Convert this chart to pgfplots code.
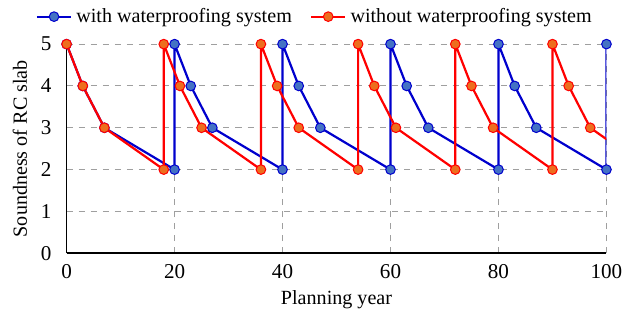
\documentclass[border=0pt]{standalone}
\usepackage{fontspec}
\setmainfont{Liberation Serif}
\usepackage{pgfplots}
\pgfplotsset{compat=1.18}
\definecolor{lblue}{RGB}{0,0,205}
\definecolor{mblue}{RGB}{68,114,196}
\definecolor{lred}{RGB}{255,0,0}
\definecolor{mred}{RGB}{237,110,30}
\begin{document}
\begin{tikzpicture}
\begin{axis}[
  scale only axis, width=268.5pt, height=104pt,
  xmin=0, xmax=100, ymin=0, ymax=5,
  xtick={0,20,40,60,80,100}, ytick={0,1,2,3,4,5},
  axis x line*=bottom, axis y line*=left,
  axis line style={-, line width=0.8pt, black},
  grid=major, major grid style={dashed, gray!75, line width=0.5pt},
  tick style={draw=none},
  xticklabel style={yshift=-2pt, font=\fontsize{10.5}{12}\selectfont},
  yticklabel style={xshift=-4pt, font=\fontsize{10.5}{12}\selectfont},
  xlabel={Planning year}, ylabel={Soundness of RC slab},
  xlabel style={yshift=1pt},
  /pgf/number format/assume math mode=true,
  legend columns=2,
  legend style={draw=none, fill=none, at={(-0.069,1.05)}, anchor=south west,
    /tikz/every even column/.append style={column sep=7pt}},
]
\addplot[lblue, line width=1.1pt, mark=*, mark size=2.4pt,
  mark options={fill=mblue, draw=lblue, line width=0.5pt}] coordinates {
(0,5)(3,4)(7,3)(20,2)(20,5)(23,4)(27,3)(40,2)(40,5)(43,4)(47,3)(60,2)
(60,5)(63,4)(67,3)(80,2)(80,5)(83,4)(87,3)(100,2)(100,5)};
\addlegendentry{with waterproofing system}
\addplot[lred, line width=1.1pt, mark=*, mark size=2.4pt,
  mark options={fill=mred, draw=lred, line width=0.5pt}] coordinates {
(0,5)(3,4)(7,3)(18,2)(18,5)(21,4)(25,3)(36,2)(36,5)(39,4)(43,3)(54,2)
(54,5)(57,4)(61,3)(72,2)(72,5)(75,4)(79,3)(90,2)(90,5)(93,4)(97,3)};
\addlegendentry{without waterproofing system}
\addplot[lred, line width=1.1pt, no markers, forget plot] coordinates {(97,3)(100,2.727)};
\end{axis}
\path (current bounding box.south west) ++(-3pt,0pt);
\path (current bounding box.north east) ++(1pt,0pt);
\end{tikzpicture}
\end{document}
